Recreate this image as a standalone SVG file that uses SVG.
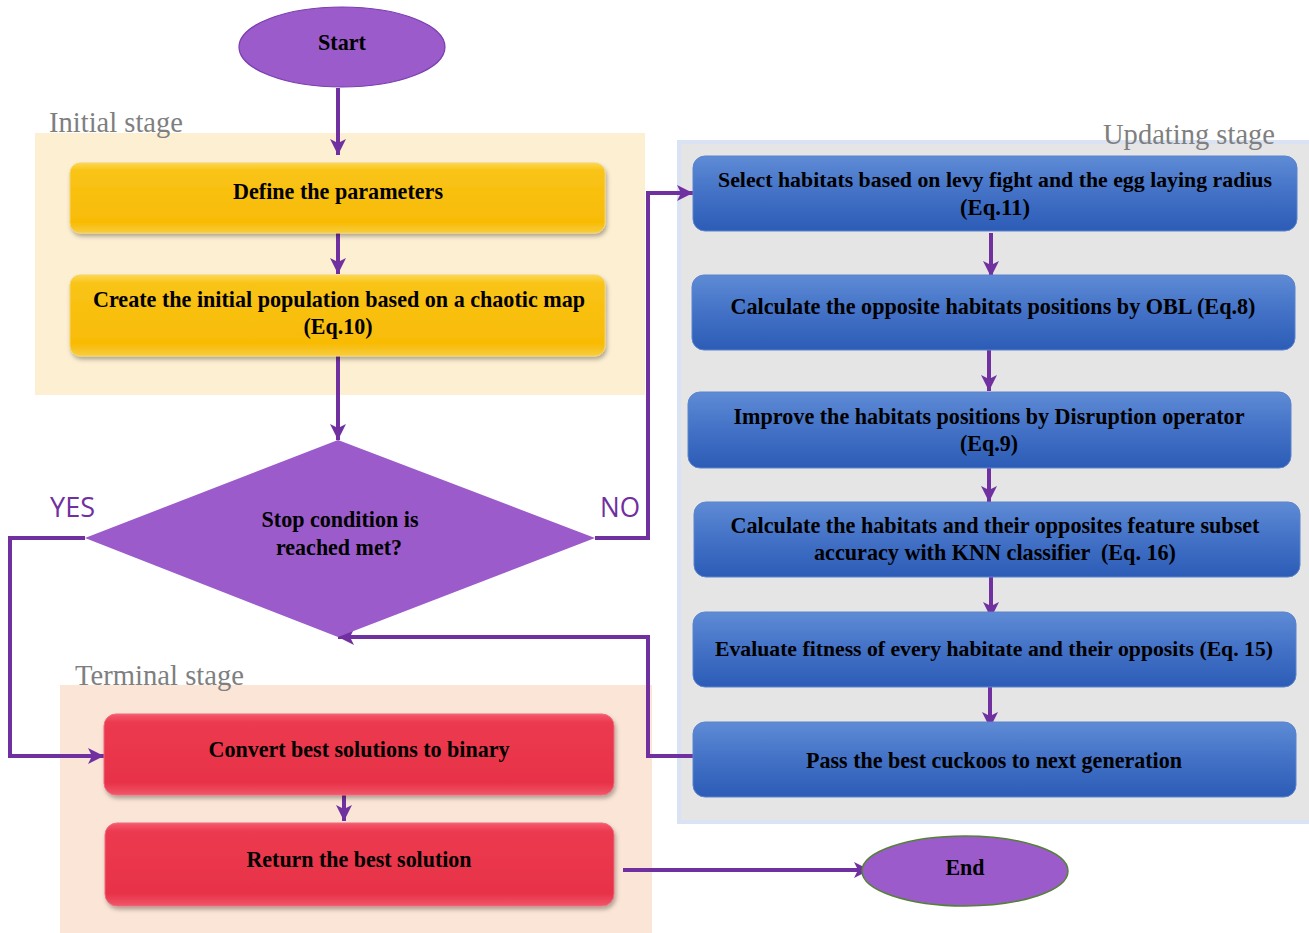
<svg xmlns="http://www.w3.org/2000/svg" width="1309" height="933" viewBox="0 0 1309 933">
<defs>
<linearGradient id="gY" x1="0" y1="0" x2="0" y2="1">
<stop offset="0" stop-color="#fcd84f"/><stop offset="0.1" stop-color="#f9c417"/><stop offset="0.85" stop-color="#f8bb05"/><stop offset="1" stop-color="#f7cd3e"/>
</linearGradient>
<linearGradient id="gB" x1="0" y1="0" x2="0" y2="1">
<stop offset="0" stop-color="#5f8bd5"/><stop offset="0.5" stop-color="#4271c6"/><stop offset="1" stop-color="#2d5cb7"/>
</linearGradient>
<linearGradient id="gR" x1="0" y1="0" x2="0" y2="1">
<stop offset="0" stop-color="#f65a6d"/><stop offset="0.1" stop-color="#ec3a50"/><stop offset="0.85" stop-color="#e83247"/><stop offset="1" stop-color="#f0566a"/>
</linearGradient>
<filter id="sh" x="-5%" y="-20%" width="110%" height="150%">
<feDropShadow dx="1.5" dy="3" stdDeviation="2" flood-color="#000" flood-opacity="0.3"/>
</filter>
<marker id="ah" viewBox="0 0 10 10" refX="10" refY="5" markerWidth="16" markerHeight="16" markerUnits="userSpaceOnUse" orient="auto">
<path d="M0,0 L10,5 L0,10 L2.5,5 z" fill="#7030a0"/>
</marker>
<style>
.t{font-family:"Liberation Serif","Times New Roman",serif;font-weight:bold;font-size:24px;fill:#000;text-anchor:middle}
.s{font-size:21px}
.lbl{font-family:"Liberation Serif","Times New Roman",serif;font-size:30px;fill:#7f7f7f}
.yn{font-family:"Open Sans","Liberation Sans",sans-serif;font-size:27px;fill:#7030a0}
.ca{fill:none;stroke:#7030a0;stroke-width:4;marker-end:url(#ah)}
.yb{fill:url(#gY);stroke:#f5d36a;stroke-width:1;filter:url(#sh)}
.bb{fill:url(#gB);stroke:#5b84cc;stroke-width:1}
.rb{fill:url(#gR);stroke:#f06a7a;stroke-width:1;filter:url(#sh)}
.pu{fill:#9b5bcb}
</style>
</defs>
<rect width="1309" height="933" fill="#fff"/>
<g id="bg-initial"><rect x="35" y="133" width="610" height="262" fill="#fdefd2"/><text class="lbl" x="49" y="132" textLength="134" lengthAdjust="spacingAndGlyphs">Initial stage</text></g>
<g id="bg-updating"><rect x="679" y="142" width="632" height="680" fill="#e5e5e5" stroke="#dae3f3" stroke-width="4"/><text class="lbl" x="1275" y="144" text-anchor="end" textLength="172" lengthAdjust="spacingAndGlyphs">Updating stage</text></g>
<g id="bg-terminal"><rect x="60" y="685" width="592" height="248" fill="#fbe5d6"/><text class="lbl" x="75" y="685" textLength="169" lengthAdjust="spacingAndGlyphs">Terminal stage</text></g>

<g id="connectors">
<path class="ca" d="M338 88 V155"/>
<path class="ca" d="M338 231 V274"/>
<path class="ca" d="M338 356 V440"/>
<path class="ca" d="M595 538 H648 V193 H693"/>
<path class="ca" d="M85 538 H10 V756 H104"/>
<path class="ca" d="M693 756 H648 V637 H338"/>
<path class="ca" d="M991 233 V277"/>
<path class="ca" d="M989 350 V391"/>
<path class="ca" d="M989 468 V502"/>
<path class="ca" d="M991 577 V618"/>
<path class="ca" d="M990 687 V728"/>
<path class="ca" d="M344 780 V821"/>
<path class="ca" d="M623 870 H870"/>
</g>

<g id="start"><ellipse class="pu" cx="342" cy="47" rx="103" ry="40" stroke="#7a3fb0" stroke-width="1.2"/><text class="t" x="342" y="50" textLength="48" lengthAdjust="spacingAndGlyphs">Start</text></g>

<g id="define"><rect class="yb" x="70" y="163" width="535" height="70" rx="10"/><text class="t" x="338" y="199" textLength="210" lengthAdjust="spacingAndGlyphs">Define the parameters</text></g>
<g id="create"><rect class="yb" x="70" y="275" width="535" height="81" rx="10"/><text class="t" x="339" y="307" textLength="492" lengthAdjust="spacingAndGlyphs">Create the initial population based on a chaotic map</text><text class="t" x="338" y="334" textLength="69" lengthAdjust="spacingAndGlyphs">(Eq.10)</text></g>

<g id="decision"><polygon class="pu" points="338,440 595,538 338,637 85,538"/><text class="t" x="340" y="527" textLength="157" lengthAdjust="spacingAndGlyphs">Stop condition is</text><text class="t" x="339" y="555" textLength="126" lengthAdjust="spacingAndGlyphs">reached met?</text></g>
<g id="yes-label"><text class="yn" x="50" y="517" textLength="45" lengthAdjust="spacingAndGlyphs">YES</text></g>
<g id="no-label"><text class="yn" x="600" y="517" textLength="40" lengthAdjust="spacingAndGlyphs">NO</text></g>

<g id="select"><rect class="bb" x="693" y="156" width="604" height="75" rx="12"/><text class="t s" x="995" y="187" textLength="554" lengthAdjust="spacingAndGlyphs">Select habitats based on levy fight and the egg laying radius</text><text class="t" x="995" y="215" textLength="70" lengthAdjust="spacingAndGlyphs">(Eq.11)</text></g>
<g id="opposite"><rect class="bb" x="692" y="275" width="603" height="75" rx="12"/><text class="t" x="993" y="314" textLength="525" lengthAdjust="spacingAndGlyphs">Calculate the opposite habitats positions by OBL (Eq.8)</text></g>
<g id="improve"><rect class="bb" x="688" y="392" width="603" height="76" rx="12"/><text class="t" x="989" y="424" textLength="511" lengthAdjust="spacingAndGlyphs">Improve the habitats positions by Disruption operator</text><text class="t" x="989" y="451" textLength="58" lengthAdjust="spacingAndGlyphs">(Eq.9)</text></g>
<g id="accuracy"><rect class="bb" x="694" y="502" width="606" height="75" rx="12"/><text class="t" x="995" y="533" textLength="529" lengthAdjust="spacingAndGlyphs">Calculate the habitats and their opposites feature subset</text><text class="t" x="995" y="560" textLength="362" lengthAdjust="spacingAndGlyphs" xml:space="preserve">accuracy with KNN classifier  (Eq. 16)</text></g>
<g id="evaluate"><rect class="bb" x="693" y="612" width="603" height="75" rx="12"/><text class="t s" x="994" y="656" textLength="558" lengthAdjust="spacingAndGlyphs">Evaluate fitness of every habitate and their opposits (Eq. 15)</text></g>
<g id="pass"><rect class="bb" x="693" y="722" width="603" height="75" rx="12"/><text class="t" x="994" y="768" textLength="376" lengthAdjust="spacingAndGlyphs">Pass the best cuckoos to next generation</text></g>

<g id="convert"><rect class="rb" x="104" y="714" width="510" height="81" rx="12"/><text class="t" x="359" y="757" textLength="301" lengthAdjust="spacingAndGlyphs">Convert best solutions to binary</text></g>
<g id="return"><rect class="rb" x="105" y="823" width="509" height="83" rx="12"/><text class="t" x="359" y="867" textLength="225" lengthAdjust="spacingAndGlyphs">Return the best solution</text></g>

<g id="end"><ellipse class="pu" cx="965" cy="871" rx="103" ry="35" stroke="#548235" stroke-width="1.5"/><text class="t" x="965" y="875" textLength="39" lengthAdjust="spacingAndGlyphs">End</text></g>
</svg>
